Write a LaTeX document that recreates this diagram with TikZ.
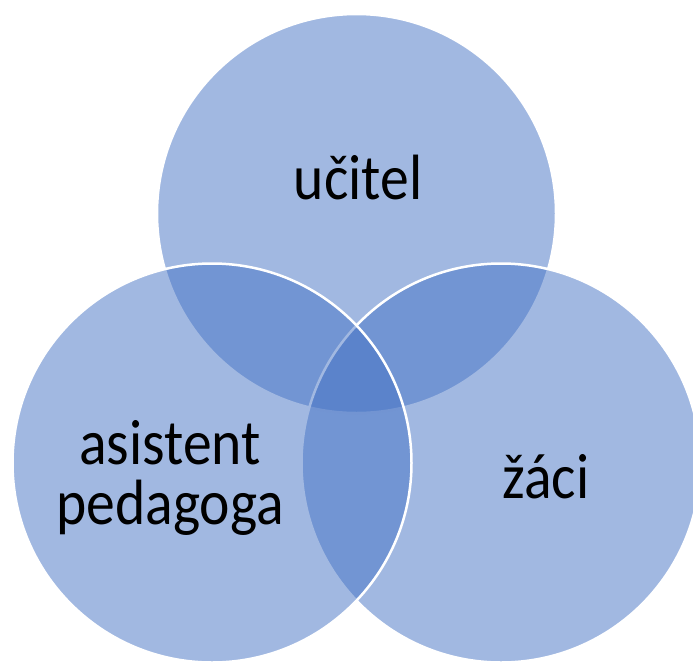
\documentclass[tikz,border=0pt]{standalone}
\usepackage{graphicx}
\usepackage{fontspec}
\setmainfont{Carlito}
\definecolor{acc}{HTML}{4472C4}
\newcommand{\nar}[1]{\scalebox{0.9}[1]{#1}}
\tikzset{
  venn/.style={fill=acc, fill opacity=0.5, draw=white, line width=2.5pt},
  lbl/.style={anchor=base, text=black, align=center, font=\fontsize{64}{60}\selectfont, inner sep=0pt}
}
\begin{document}
\begin{tikzpicture}[x=1pt,y=-1pt]
\useasboundingbox (0,0) rectangle (693,662);
\clip (0,0) rectangle (693,662);
\path[venn] (356.5,213.5) circle[radius=199.5];
\path[venn] (501,463) circle[radius=199.5];
\path[venn] (212,463) circle[radius=199.5];
\node[lbl] (t) at (358,199) {\nar{učitel}};
\node[lbl] (l) at (170,524) {\nar{asistent}\\\nar{pedagoga}};
\node[lbl] (r) at (546,498) {\nar{žáci}};
\end{tikzpicture}
\end{document}
